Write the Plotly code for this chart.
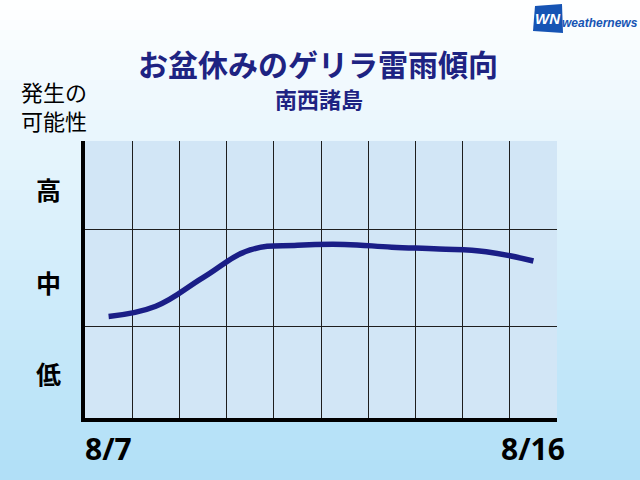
import plotly.graph_objects as go

# ---- data ----
dates = ["8/7", "8/8", "8/9", "8/10", "8/11", "8/12", "8/13", "8/14", "8/15", "8/16"]
day_index = list(range(len(dates)))
likelihood = [1.10, 1.21, 1.52, 1.82, 1.87, 1.88, 1.85, 1.83, 1.80, 1.70]
level_labels = ["低", "中", "高"]
level_centers = [0.49, 1.47, 2.48]
grid_levels = [0.986, 2.041]
day_grid = [0.5, 1.5, 2.5, 3.5, 4.5, 5.5, 6.5, 7.5, 8.5]
shown_dates = ["8/7", "8/16"]
axis_title_lines = ["発生の", "可能性"]

W, H = 640, 480
L, R, T, B = 85, 557, 141, 418
ml, mr, mt, mb = L, W - R, T, H - B
pw, ph = R - L, B - T


def px(x):
    return (x - L) / pw


def py(y):
    return (B - y) / ph


fig = go.Figure()
fig.add_trace(go.Scatter(
    x=day_index, y=likelihood, mode="lines",
    line=dict(color="rgb(26,30,135)", width=5.5, shape="spline", smoothing=1.2),
    hoverinfo="skip", showlegend=False,
))

shapes = []
# vertical background gradient (white -> light sky blue)
n = 48
top_c = (255, 255, 255)
bot_c = (176, 223, 247)
for i in range(n):
    y0 = H * i / n
    y1 = H * (i + 1) / n + 1
    t = (i + 0.5) / n
    c = tuple(int(round(top_c[k] + (bot_c[k] - top_c[k]) * t)) for k in range(3))
    shapes.append(dict(type="rect", xref="paper", yref="paper",
                       x0=px(0), x1=px(W), y0=py(y1), y1=py(y0),
                       fillcolor="rgb(%d,%d,%d)" % c, line=dict(width=0), layer="below"))
# plot area fill
shapes.append(dict(type="rect", xref="paper", yref="paper", x0=0, x1=1, y0=0, y1=1,
                   fillcolor="rgb(210,230,246)", line=dict(width=0), layer="below"))

# logo block
shapes.append(dict(type="path", xref="paper", yref="paper",
                   path="M %f,%f L %f,%f L %f,%f L %f,%f Z" % (
                       px(535), py(6), px(562), py(4), px(563), py(33), px(533), py(31)),
                   fillcolor="rgb(22,84,180)", line=dict(width=0), layer="above"))
fig.update_layout(shapes=shapes)

ann = []
ann.append(dict(text="<b>お盆休みのゲリラ雷雨傾向</b>", x=px(318), y=py(63), xref="paper", yref="paper",
                showarrow=False, font=dict(family="Noto Sans CJK JP", size=30, color="rgb(30,35,130)"),
                xanchor="center", yanchor="middle"))
ann.append(dict(text="<b>南西諸島</b>", x=px(319), y=py(98), xref="paper", yref="paper",
                showarrow=False, font=dict(family="Noto Sans CJK JP", size=22, color="rgb(30,35,130)"),
                xanchor="center", yanchor="middle"))
for line_text, yc in zip(axis_title_lines, [91, 120]):
    ann.append(dict(text=line_text, x=px(19), y=py(yc), xref="paper", yref="paper",
                    showarrow=False, align="left",
                    font=dict(family="Noto Sans CJK JP", size=22, color="black"),
                    xanchor="left", yanchor="middle"))
for lab, yc in zip(level_labels, level_centers):
    ann.append(dict(text="<b>%s</b>" % lab, x=px(48), y=yc, xref="paper", yref="y",
                    showarrow=False, font=dict(family="Noto Sans CJK JP", size=25, color="black"),
                    xanchor="center", yanchor="middle"))
for d in shown_dates:
    ann.append(dict(text="<b>%s</b>" % d, x=dates.index(d), y=py(448), xref="x", yref="paper",
                    showarrow=False, font=dict(family="Open Sans", size=30, color="black"),
                    xanchor="center", yanchor="middle"))
ann.append(dict(text="<b><i>WN</i></b>", x=px(548), y=py(19), xref="paper", yref="paper",
                showarrow=False, font=dict(family="Liberation Sans", size=15, color="white"),
                xanchor="center", yanchor="middle"))
ann.append(dict(text="<b><i>weathernews</i></b>", x=px(600), y=py(23), xref="paper", yref="paper",
                showarrow=False, font=dict(family="Liberation Sans", size=12, color="rgb(22,84,180)"),
                xanchor="center", yanchor="middle"))

fig.update_layout(
    annotations=ann,
    width=W, height=H,
    margin=dict(l=ml, r=mr, t=mt, b=mb, pad=0),
    paper_bgcolor="white",
    plot_bgcolor="rgb(210,230,246)",
    showlegend=False,
    xaxis=dict(range=[-0.5, 9.5], tickmode="array", tickvals=day_grid, showticklabels=False,
               ticks="", showgrid=True, gridcolor="rgb(30,30,30)", gridwidth=1.2, zeroline=False,
               showline=True, linecolor="black", linewidth=4, fixedrange=True),
    yaxis=dict(range=[0, 3], tickmode="array", tickvals=grid_levels, showticklabels=False,
               ticks="", showgrid=True, gridcolor="rgb(30,30,30)", gridwidth=1.2, zeroline=False,
               showline=True, linecolor="black", linewidth=4, fixedrange=True),
)

fig.write_html("out.html", config={"displayModeBar": False},
               post_script="document.body.style.margin='0';document.body.style.overflow='hidden';")
